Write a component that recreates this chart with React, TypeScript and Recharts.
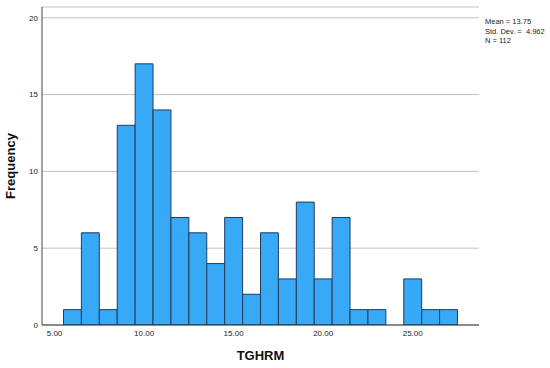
import React from 'react';
import {
  BarChart,
  Bar,
  XAxis,
  YAxis,
  CartesianGrid,
} from 'recharts';

// histogram bins (bin centre) and frequencies
const binCenters = [6, 7, 8, 9, 10, 11, 12, 13, 14, 15, 16, 17, 18, 19, 20, 21, 22, 23, 24, 25, 26, 27];
const frequencies = [1, 6, 1, 13, 17, 14, 7, 6, 4, 7, 2, 6, 3, 8, 3, 7, 1, 1, 0, 3, 1, 1];

const xTicks = [5, 10, 15, 20, 25];
const yTicks = [0, 5, 10, 15, 20];
const statLines = ['Mean = 13.75', 'Std. Dev. =  4.962', 'N = 112'];

const data = binCenters.map((bin, i) => ({ bin, count: frequencies[i] }));

const FONT = "Arial, 'Liberation Sans', sans-serif";

const App = () => {
  return (
    <div style={{ position: 'absolute', left: 0, top: 0, width: 550, height: 368, background: '#fff', fontFamily: FONT }}>
      <BarChart
        width={550}
        height={368}
        data={data}
        margin={{ top: 7, right: 71, left: 0, bottom: 0 }}
        barCategoryGap={0}
      >
        <CartesianGrid horizontal vertical={false} stroke="#c2c2c2" strokeWidth={1} />
        <Bar
          dataKey="count"
          fill="#38a9f7"
          stroke="#1e3d5c"
          strokeWidth={1}
          barSize={17.9}
          isAnimationActive={false}
        />
        <XAxis
          dataKey="bin"
          type="number"
          domain={[4.3, 28.7]}
          ticks={xTicks}
          allowDataOverflow
          tickFormatter={(v: number) => v.toFixed(2)}
          height={43}
          tickLine={false}
          tickSize={0}
          tickMargin={5}
          stroke="#333"
          tick={{ fontSize: 8, fill: '#222', fontFamily: FONT }}
          label={{ value: 'TGHRM', position: 'insideBottom', offset: 8, style: { fontSize: 13, fontWeight: 'bold', fill: '#111', fontFamily: FONT } }}
        />
        <YAxis
          type="number"
          domain={[0, 20.7]}
          ticks={yTicks}
          allowDataOverflow
          width={42}
          tickLine={false}
          tickSize={0}
          tickMargin={4}
          stroke="#444"
          tick={{ fontSize: 8, fill: '#222', fontFamily: FONT }}
          label={{ value: 'Frequency', angle: -90, position: 'insideLeft', offset: 10, style: { textAnchor: 'middle', fontSize: 13, fontWeight: 'bold', fill: '#111', fontFamily: FONT } }}
        />
      </BarChart>
      <div style={{ position: 'absolute', left: 485, top: 17, fontSize: 7.5, lineHeight: '9.5px', color: '#222', whiteSpace: 'pre' }}>
        {statLines.map((line) => (
          <div key={line}>{line}</div>
        ))}
      </div>
    </div>
  );
};

export default App;
